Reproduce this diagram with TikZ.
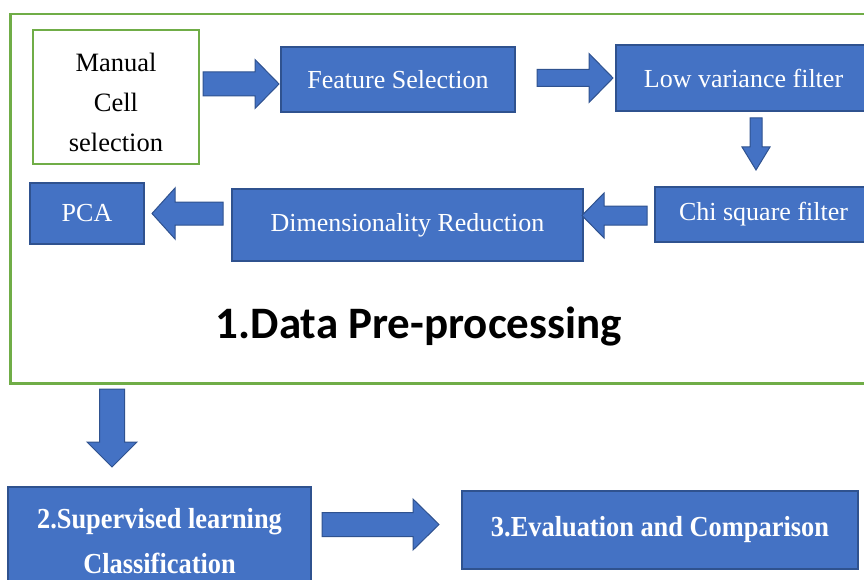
\documentclass[tikz,border=0pt]{standalone}
\usepackage{fontspec}
\setmainfont{Liberation Serif}
\newfontfamily\condfont[FakeStretch=0.91]{Liberation Serif}
\newfontfamily\headfont{Carlito}
\definecolor{boxblue}{HTML}{4472C4}
\definecolor{edgeblue}{HTML}{2F528F}
\definecolor{framegreen}{HTML}{70AD47}
\tikzset{
  bluebox/.style={draw=edgeblue, line width=1.2pt, fill=boxblue, text=white,
    inner sep=0pt, align=center, font=\fontsize{26}{30}\selectfont},
  boldbox/.style={bluebox, font=\condfont\bfseries\fontsize{29}{45}\selectfont},
  greenbox/.style={draw=framegreen, line width=2.5pt, fill=white, inner sep=0pt,
    align=center, font=\fontsize{26.5}{40}\selectfont},
  barrow/.style={draw=edgeblue, line width=1pt, fill=boxblue, line join=miter}
}
% horizontal block arrow: tail x, head-base x, tip x, centre y, shaft half, head half
\newcommand\hblock[6]{\draw[barrow] (#1,#4-#5) -- (#2,#4-#5) -- (#2,#4-#6) -- (#3,#4) -- (#2,#4+#6) -- (#2,#4+#5) -- (#1,#4+#5) -- cycle;}
% vertical block arrow: tail y, head-base y, tip y, centre x, shaft half, head half
\newcommand\vblock[6]{\draw[barrow] (#4-#5,#1) -- (#4-#5,#2) -- (#4-#6,#2) -- (#4,#3) -- (#4+#6,#2) -- (#4+#5,#2) -- (#4+#5,#1) -- cycle;}
\begin{document}
\begin{tikzpicture}[x=1pt,y=-1pt]
\useasboundingbox (0,0) rectangle (864,580);
\clip (0,0) rectangle (864,580);
% outer frame
\node[draw=framegreen, line width=2.5pt, minimum width=860pt, minimum height=369pt, inner sep=0pt, anchor=north west] (frame) at (9,13) {};
\node[font=\headfont\bfseries\fontsize{45}{50}\selectfont, anchor=base] (title) at (419,338) {1.Data Pre-processing};
% boxes
\node[greenbox, minimum width=166pt, minimum height=134pt] (manual) at (116,97) {};
\node[greenbox, draw=none, fill=none, anchor=center] (manualtext) at (116,102) {Manual\\Cell\\selection};
\node[bluebox, minimum width=234pt, minimum height=65pt] (fs) at (398,79.5) {Feature Selection};
\node[bluebox, minimum width=255pt, minimum height=66pt] (lv) at (743.5,78) {Low variance filter};
\node[bluebox, minimum width=217pt, minimum height=55pt] (chi) at (763.5,214.5) {Chi square filter};
\node[bluebox, minimum width=351pt, minimum height=72pt] (dim) at (407.5,225) {Dimensionality Reduction};
\node[bluebox, minimum width=114pt, minimum height=61pt] (pca) at (87,213.5) {PCA};
\node[boldbox, minimum width=303pt, minimum height=108pt] (sup) at (159.5,541) {2.Supervised learning\\Classification};
\node[boldbox, minimum width=396pt, minimum height=78pt] (eval) at (660,530) {3.Evaluation and Comparison};
% block arrows
\hblock{203}{255}{279}{84}{12}{24.5}
\hblock{537}{589}{613}{78}{8.5}{24.5}
\vblock{118}{147}{170}{756}{6}{14}
\hblock{647}{604}{582}{215.5}{9.5}{22.5}
\hblock{223}{175}{152}{213.5}{11.5}{25.5}
\vblock{389}{442}{467}{112}{12.5}{25}
\hblock{322}{413}{439}{524.5}{12}{25.5}
\end{tikzpicture}
\end{document}
